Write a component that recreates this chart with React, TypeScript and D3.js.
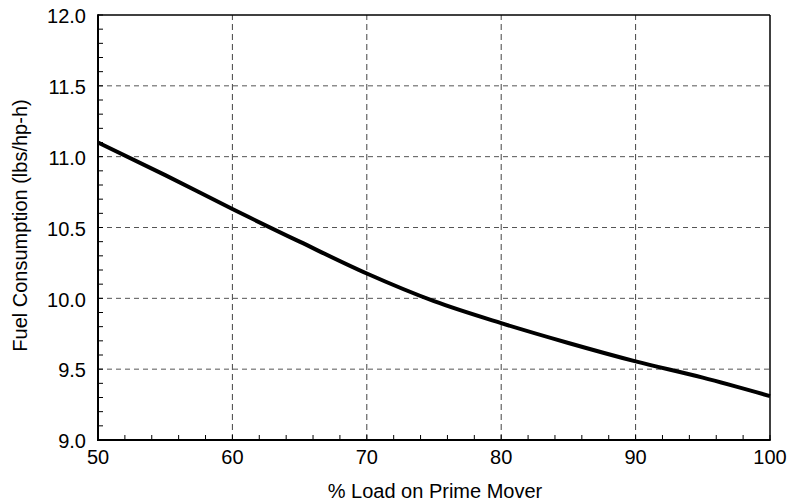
import React from 'react';
import * as d3 from 'd3';

const loads = [50, 55, 60, 65, 70, 75, 80, 85, 90, 95, 100];
const fuel = [11.1, 10.87, 10.63, 10.4, 10.175, 9.98, 9.825, 9.685, 9.555, 9.44, 9.31];

const xTicks = [50, 60, 70, 80, 90, 100];
const yTicks = [9.0, 9.5, 10.0, 10.5, 11.0, 11.5, 12.0];

const W = 788;
const H = 503;
const M = { left: 98, right: 18, top: 15, bottom: 63 };
const FONT = '"Liberation Sans", Arial, Helvetica, sans-serif';

export default function App() {
  const x = d3.scaleLinear().domain([50, 100]).range([M.left, W - M.right]);
  const y = d3.scaleLinear().domain([9, 12]).range([H - M.bottom, M.top]);

  const line = d3
    .line<number>()
    .x((_, i) => x(loads[i]))
    .y((d) => y(d))
    .curve(d3.curveMonotoneX);

  const xMinor = d3.range(50, 100.01, 2);
  const yMinor = d3.range(9, 12.001, 0.1);

  const [x0, x1] = x.range();
  const [y0, y1] = y.range();

  return (
    <svg
      width={W}
      height={H}
      style={{ position: 'absolute', left: 0, top: 0, background: '#fff' }}
      fontFamily={FONT}
    >
      {/* horizontal grid */}
      {yTicks.slice(1, -1).map((t) => (
        <line
          key={`hg${t}`}
          x1={x0}
          x2={x1}
          y1={y(t)}
          y2={y(t)}
          stroke="#555"
          strokeWidth={1}
          strokeDasharray="5 4"
        />
      ))}
      {/* vertical grid */}
      {xTicks.slice(1, -1).map((t) => (
        <line
          key={`vg${t}`}
          x1={x(t)}
          x2={x(t)}
          y1={y0}
          y2={y1}
          stroke="#444"
          strokeWidth={1}
          strokeDasharray="6 4"
        />
      ))}

      {/* minor ticks */}
      {yMinor.map((t) => (
        <line key={`ym${t}`} x1={x0} x2={x0 + 5} y1={y(t)} y2={y(t)} stroke="#000" strokeWidth={1} />
      ))}
      {xMinor.map((t) => (
        <line key={`xm${t}`} x1={x(t)} x2={x(t)} y1={y0} y2={y0 - 5} stroke="#000" strokeWidth={1} />
      ))}

      {/* frame */}
      <line x1={x0} x2={x1} y1={y1} y2={y1} stroke="#000" strokeWidth={1.5} />
      <line x1={x1} x2={x1} y1={y0} y2={y1} stroke="#000" strokeWidth={1.5} />
      <line x1={x0} x2={x0} y1={y0 + 1} y2={y1 - 0.75} stroke="#000" strokeWidth={2} />
      <line x1={x0 - 1} x2={x1 + 0.75} y1={y0} y2={y0} stroke="#000" strokeWidth={2} />

      {/* data */}
      <path d={line(fuel) ?? ''} fill="none" stroke="#000" strokeWidth={4} strokeLinejoin="round" />

      {/* tick labels */}
      {yTicks.map((t) => (
        <text
          key={`yl${t}`}
          x={x0 - 12}
          y={y(t) + 3}
          textAnchor="end"
          dominantBaseline="middle"
          fontSize={20}
          fill="#000"
        >
          {t.toFixed(1)}
        </text>
      ))}
      {xTicks.map((t) => (
        <text
          key={`xl${t}`}
          x={x(t)}
          y={y0 + 24}
          textAnchor="middle"
          fontSize={20}
          fill="#000"
        >
          {t}
        </text>
      ))}

      {/* axis titles */}
      <text x={(x0 + x1) / 2 + 1} y={498} textAnchor="middle" fontSize={20} fill="#000">
        % Load on Prime Mover
      </text>
      <text
        transform={`translate(27,${(y0 + y1) / 2 - 2}) rotate(-90)`}
        textAnchor="middle"
        fontSize={20}
        fill="#000"
      >
        Fuel Consumption (lbs/hp-h)
      </text>
    </svg>
  );
}
